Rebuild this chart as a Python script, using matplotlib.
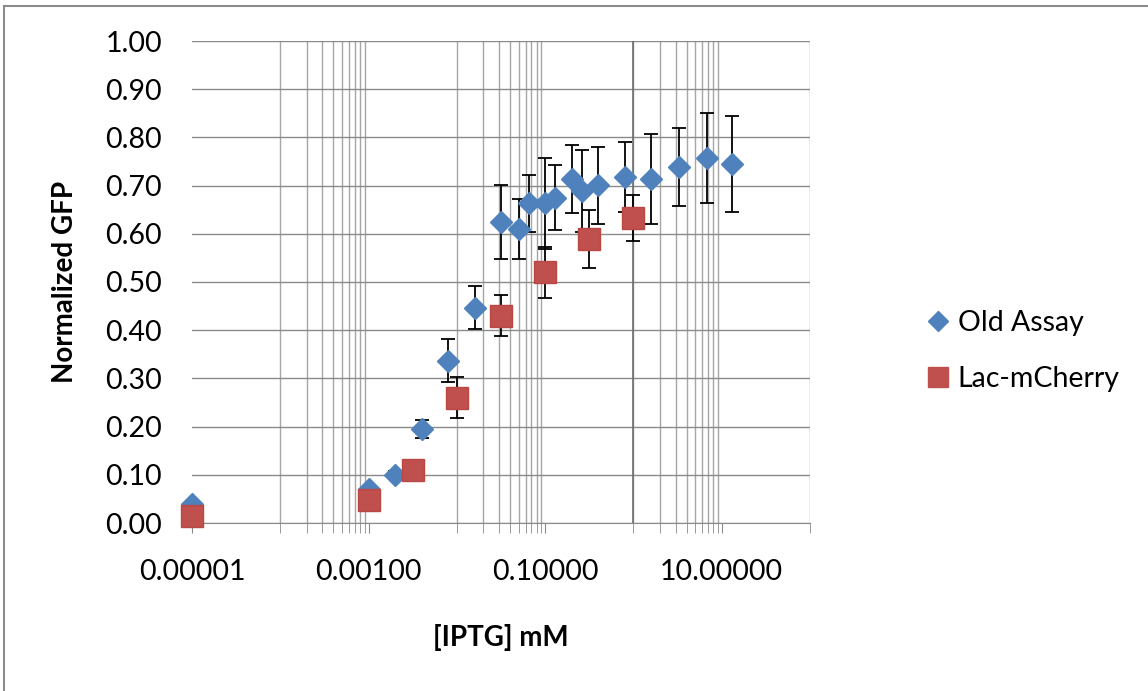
import matplotlib
matplotlib.use("Agg")
import matplotlib.pyplot as plt
from matplotlib.lines import Line2D
from matplotlib.ticker import FixedLocator, NullFormatter

plt.rcParams["font.family"] = ["Lato", "DejaVu Sans"]

# --- data ---
old_x = [1e-5, 0.001, 0.002, 0.004, 0.008, 0.016, 0.032, 0.05, 0.065, 0.1,
         0.13, 0.2, 0.26, 0.4, 0.8, 1.6, 3.3, 6.8, 13.0]
old_y = [0.040, 0.070, 0.100, 0.195, 0.337, 0.447, 0.625, 0.610, 0.663, 0.663,
         0.675, 0.714, 0.689, 0.701, 0.718, 0.714, 0.739, 0.757, 0.745]
old_err = [0.005, 0.006, 0.008, 0.018, 0.044, 0.045, 0.077, 0.062, 0.060, 0.095,
           0.067, 0.070, 0.085, 0.080, 0.072, 0.093, 0.081, 0.093, 0.099]

lac_x = [1e-5, 0.001, 0.00316, 0.01, 0.0316, 0.1, 0.316, 1.0]
lac_y = [0.015, 0.047, 0.110, 0.260, 0.430, 0.520, 0.590, 0.633]
lac_err = [0.003, 0.005, 0.010, 0.043, 0.042, 0.053, 0.060, 0.048]

x_ticks = [1e-5, 1e-3, 1e-1, 10]
x_ticklabels = ["0.00001", "0.00100", "0.10000", "10.00000"]
y_ticks = [0.0, 0.1, 0.2, 0.3, 0.4, 0.5, 0.6, 0.7, 0.8, 0.9, 1.0]

BLUE = "#4F81BD"
RED = "#C0504D"
GRID = "#8a8a8a"
FS = 20.5

fig = plt.figure(figsize=(11.48, 6.91), dpi=100)
ax = fig.add_axes([192 / 1148, 1 - 523 / 691, 618 / 1148, 482 / 691])

ax.set_xscale("log")
ax.set_xlim(1e-5, 100)
ax.set_ylim(0, 1)

# excel-style log base 100 axis: labels every 2 decades, minor grid in the upper decade
minor = [k * 10.0 ** n for n in (-4, -2, 0) for k in range(1, 10)] + [100]
ax.xaxis.set_major_locator(FixedLocator(x_ticks))
ax.set_xticklabels(x_ticklabels)
ax.xaxis.set_minor_locator(FixedLocator(minor))
ax.xaxis.set_minor_formatter(NullFormatter())
ax.set_yticks(y_ticks)
ax.set_yticklabels([f"{v:.2f}" for v in y_ticks])

ax.grid(True, axis="y", which="major", color=GRID, lw=1.0)
ax.grid(True, axis="x", which="minor", color="#a6a6a6", lw=1.0)
ax.axvline(1.0, color="#6e6e6e", lw=1.2, zorder=0.6)
ax.set_axisbelow(True)

for s in ("top", "right", "left"):
    ax.spines[s].set_visible(False)
ax.spines["bottom"].set_color(GRID)

ax.tick_params(axis="y", length=0, pad=21.5, labelsize=FS)
ax.tick_params(axis="x", which="both", length=7, color=GRID, pad=19, labelsize=FS)

# error bars then markers (Lac-mCherry drawn over Old Assay)
ax.errorbar(old_x, old_y, yerr=old_err, fmt="none", ecolor="black", elinewidth=1.3,
            capsize=5, capthick=1.3, zorder=3, clip_on=False)
ax.plot(old_x, old_y, "D", ms=11, color=BLUE, mec=BLUE, zorder=4, clip_on=False)
ax.errorbar(lac_x, lac_y, yerr=lac_err, fmt="none", ecolor="black", elinewidth=1.3,
            capsize=5, capthick=1.3, zorder=5, clip_on=False)
ax.plot(lac_x, lac_y, "s", ms=16, color=RED, mec="#b94744", zorder=6, clip_on=False)

ax.set_ylabel("Normalized GFP", fontsize=20, fontweight="bold")
ax.yaxis.set_label_coords(-0.1845, 0.5)
ax.set_xlabel("[IPTG] mM", fontsize=20, fontweight="bold")
ax.xaxis.set_label_coords(0.5, -0.21)

handles = [
    Line2D([], [], marker="D", ls="none", ms=10, color=BLUE, label="Old Assay"),
    Line2D([], [], marker="s", ls="none", ms=15, color=RED, label="Lac-mCherry"),
]
fig.legend(handles=handles, loc="center left", bbox_to_anchor=(925 / 1148, 1 - 351 / 691),
           frameon=False, fontsize=FS, handlelength=0.9, handletextpad=0.25,
           labelspacing=1.03, borderpad=0, borderaxespad=0)

# chart-area border (only left and top edges are visible in the crop)
fig.add_artist(Line2D([4 / 1148, 4 / 1148], [0, 1 - 6 / 691], color="#8c8c8c", lw=1.5))
fig.add_artist(Line2D([4 / 1148, 1], [1 - 6 / 691, 1 - 6 / 691], color="#8c8c8c", lw=1.5))

fig.savefig("out.png", dpi=100, facecolor="white")
